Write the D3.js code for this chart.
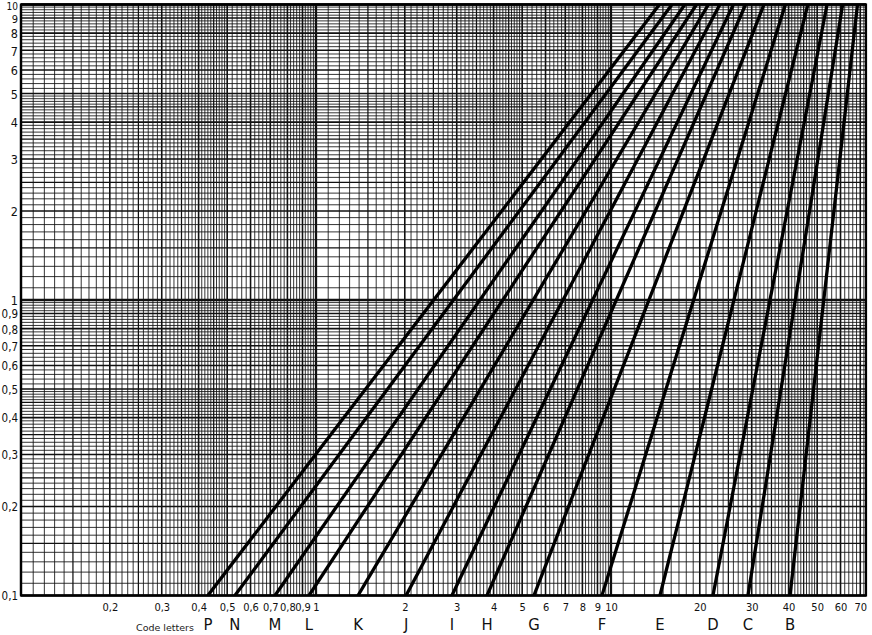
<!DOCTYPE html>
<html><head><meta charset="utf-8">
<script src="https://cdn.jsdelivr.net/npm/d3@7"></script>
<style>body{margin:0;background:#fff}</style></head>
<body><svg id="c" width="872" height="635"></svg>
<script>
// ---- data ----
const codeLetters = ["P","N","M","L","K","J","I","H","G","F","E","D","C","B"];
// x value where each line meets y = 0.1 (bottom of chart)
const xAtLow  = [0.430,0.531,0.726,0.947,1.388,2.02,2.89,3.80,5.48,9.32,14.66,22.17,29.13,40.45];
// x value where each line meets y = 10 (top of chart)
const xAtHigh = [14.6,16.1,17.8,19.5,21.4,23.4,26.0,28.6,33.0,39.0,46.5,54.0,61.0,68.5];
const yLow = 0.1, yHigh = 10;
const xTickValues = [0.2,0.3,0.4,0.5,0.6,0.7,0.8,0.9,1,2,3,4,5,6,7,8,9,10,20,30,40,50,60,70];
const xTickLabels = ["0,2","0,3","0,4","0,5","0,6","0,7","0,8","0,9","1","2","3","4","5","6","7","8","9","10","20","30","40","50","60","70"];
const yTickValues = [0.1,0.2,0.3,0.4,0.5,0.6,0.7,0.8,0.9,1,2,3,4,5,6,7,8,9,10];
const yTickLabels = ["0,1","0,2","0,3","0,4","0,5","0,6","0,7","0,8","0,9","1","2","3","4","5","6","7","8","9","10"];

// ---- layout ----
const L = 21, R = 866, T = 4.5, B = 595.5;
const x = d3.scaleLog().domain([0.1, 73.2]).range([L, R]);
const y = d3.scaleLog().domain([0.1, 10]).range([B, T]);
const svg = d3.select("#c");

// grid values (log paper: 1-5 step 0.1, 5-10 step 0.2 in each decade)
function gridValues(maxV) {
  const out = [];
  for (let e = -1; e <= 1; e++) {
    const d = Math.pow(10, e);
    for (let m = 10; m < 100; m += (m < 50 ? 1 : 2)) {
      const v = +(m * d / 10).toPrecision(6);
      if (v > maxV * 1.0001) continue;
      let cls = "minor";
      if (m === 10) cls = "decade";
      else if (m % 10 === 0) cls = "major";
      else if (m % 5 === 0) cls = "mid";
      out.push({v, cls});
    }
  }
  out.push({v: Math.min(100, maxV), cls: maxV >= 10 && maxV < 11 ? "decade" : "minor"});
  return out;
}
const widths = {minor: 0.85, mid: 1.25, major: 1.6, decade: 2.3};
const gx = gridValues(73.2).filter(d => d.v <= 73.2);
const gy = gridValues(10);

const grid = svg.append("g");
["minor","mid","major","decade"].forEach(c => {
  grid.selectAll(null).data(gx.filter(d => d.cls === c)).enter().append("line")
    .attr("x1", d => x(d.v)).attr("x2", d => x(d.v)).attr("y1", T).attr("y2", B)
    .attr("stroke", "#111").attr("stroke-width", widths[c]);
  grid.selectAll(null).data(gy.filter(d => d.cls === c)).enter().append("line")
    .attr("y1", d => y(d.v)).attr("y2", d => y(d.v)).attr("x1", L).attr("x2", R)
    .attr("stroke", "#111").attr("stroke-width", widths[c]);
});

// border
svg.append("rect").attr("x", L).attr("y", T).attr("width", R - L).attr("height", B - T)
  .attr("fill", "none").attr("stroke", "#000").attr("stroke-width", 2.2);

// clip
svg.append("clipPath").attr("id", "clip").append("rect")
  .attr("x", L).attr("y", T).attr("width", R - L).attr("height", B - T);

// curves
const lineGen = d3.line().x(d => x(d[0])).y(d => y(d[1]));
const series = codeLetters.map((c, i) => ({c, pts: [[xAtLow[i], yLow], [xAtHigh[i], yHigh]]}));
svg.append("g").attr("clip-path", "url(#clip)").selectAll("path").data(series).enter().append("path")
  .attr("d", d => lineGen(d.pts)).attr("fill", "none").attr("stroke", "#000").attr("stroke-width", 3.3);

// axes labels
const fontF = "'DejaVu Sans Condensed','Liberation Sans Narrow','Roboto Condensed',Roboto,sans-serif";
const xAxis = d3.axisBottom(x).tickValues(xTickValues).tickSize(0).tickFormat((d, i) => xTickLabels[i]);
const gxa = svg.append("g").attr("transform", `translate(0,${B})`).call(xAxis);
gxa.select(".domain").remove();
gxa.selectAll("text").attr("font-family", fontF).attr("font-size", 11).attr("fill", "#111")
  .attr("dy", null).attr("y", 15).style("font-stretch", "condensed");

const yAxis = d3.axisLeft(y).tickValues(yTickValues).tickSize(0).tickFormat((d, i) => yTickLabels[i]);
const gya = svg.append("g").attr("transform", `translate(${L - 3},0)`).call(yAxis);
gya.select(".domain").remove();
gya.selectAll("text").attr("font-family", fontF).attr("fill", "#111")
  .attr("font-size", d => d >= 10 ? 10 : (d >= 9 ? 11 : (d >= 1 ? 12.5 : 11.5))).attr("x", 0)
  .attr("dy", d => d >= 10 ? "5.3px" : (d >= 9 ? "4.6px" : "0.38em"))
  .style("font-stretch", "condensed");

// code letters row
svg.append("text").attr("x", 136).attr("y", 631).attr("font-family", "'DejaVu Sans',sans-serif")
  .attr("font-size", 9.5).attr("fill", "#222").text("Code letters");
svg.append("g").selectAll("text").data(series).enter().append("text")
  .attr("x", d => x(d.pts[0][0])).attr("y", 630).attr("text-anchor", "middle")
  .attr("font-family", fontF).attr("font-size", 16.5).attr("fill", "#111").style("font-stretch", "condensed")
  .text(d => d.c);
</script></body></html>
